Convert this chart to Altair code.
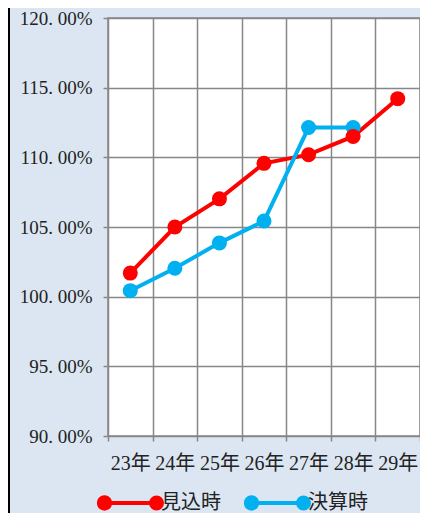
import altair as alt
import pandas as pd

years = ["23年", "24年", "25年", "26年", "27年", "28年", "29年"]
series_names = ["見込時", "決算時"]
mikomi = [101.69, 105.0, 107.02, 109.57, 110.19, 111.5, 114.21]
kessan = [100.43, 102.04, 103.86, 105.43, 112.14, 112.14]
colors = ["#ff0000", "#00b0f0"]
y_ticks = [90, 95, 100, 105, 110, 115, 120]

rows = []
for y, v in zip(years, mikomi):
    rows.append({"year": y, "series": series_names[0], "value": v})
for y, v in zip(years, kessan):
    rows.append({"year": y, "series": series_names[1], "value": v})
df = pd.DataFrame(rows)

FONT = "Liberation Serif, Noto Sans CJK JP"
GRID = "#878787"
PAD_L, PAD_T = 100, 10
W, H = 312, 418
TOTAL_H = 505

# legend symbol: line with filled dots at both ends
u = 33.5
sh = 5 / u
cx = 26 / u
r1 = 5.5 / u
r2 = 2.0 / u

def circ(c, r):
    return f"M {c + r:.4f} 0 A {r:.4f} {r:.4f} 0 1 1 {c - r:.4f} 0 A {r:.4f} {r:.4f} 0 1 1 {c + r:.4f} 0 "

sym = (f"M {-cx + sh:.4f} 0 L {cx + sh:.4f} 0 " + circ(-cx + sh, r1) + circ(-cx + sh, r2)
       + circ(cx + sh, r1) + circ(cx + sh, r2))

lines = alt.Chart(df).mark_line(
    strokeWidth=4,
    point=alt.OverlayMarkDef(filled=True, size=225, opacity=1),
).encode(
    x=alt.X("year:N", sort=years,
            scale=alt.Scale(paddingInner=0, paddingOuter=0),
            axis=alt.Axis(title=None, labelAngle=0, tickBand="extent", grid=True,
                          tickSize=5, tickColor=GRID,
                          tickWidth=1.5, labelPadding=12, labelFont=FONT,
                          labelFontSize=20, labelColor="#222222",
                          gridColor=GRID, gridWidth=1.5, domain=False,
                          labelOverlap=False)),
    y=alt.Y("value:Q", scale=alt.Scale(domain=[90, 120], nice=False, zero=False),
            axis=alt.Axis(title=None, values=y_ticks, tickSize=5, tickColor=GRID,
                          tickWidth=1.5, labelPadding=11, labelFont=FONT,
                          labelFontSize=19, labelColor="#222222",
                          gridColor=GRID, gridWidth=1.5, domain=False,
                          labelExpr="replace(format(datum.value, '.2f'), '.', '. ') + '%'")),
    color=alt.Color("series:N", sort=series_names,
                    scale=alt.Scale(domain=series_names, range=colors),
                    legend=alt.Legend(title=None, orient="none", legendX=-18,
                                      legendY=449, direction="horizontal",
                                      columns=2, symbolType=sym,
                                      symbolSize=u * u * 4, symbolStrokeWidth=4,
                                      labelFont=FONT, labelFontSize=20,
                                      labelColor="#222222", labelOffset=0,
                                      columnPadding=16)),
    order=alt.Order("series:N"),
)

border = alt.Chart(pd.DataFrame({"a": [0]})).mark_rule(
    color="black", strokeWidth=2
).encode(x=alt.value(1 - PAD_L), y=alt.value(-PAD_T), y2=alt.value(TOTAL_H))

chart = alt.layer(lines, border).properties(
    width=W, height=H,
    autosize=alt.AutoSizeParams(type="none"),
    padding={"left": PAD_L, "top": PAD_T, "right": 0, "bottom": TOTAL_H - PAD_T - H},
).configure(
    background="#dce6f2",
).configure_view(
    fill="white", stroke=GRID, strokeWidth=1.5,
)

chart.save("out.html", embed_options={"renderer": "svg", "actions": False})
